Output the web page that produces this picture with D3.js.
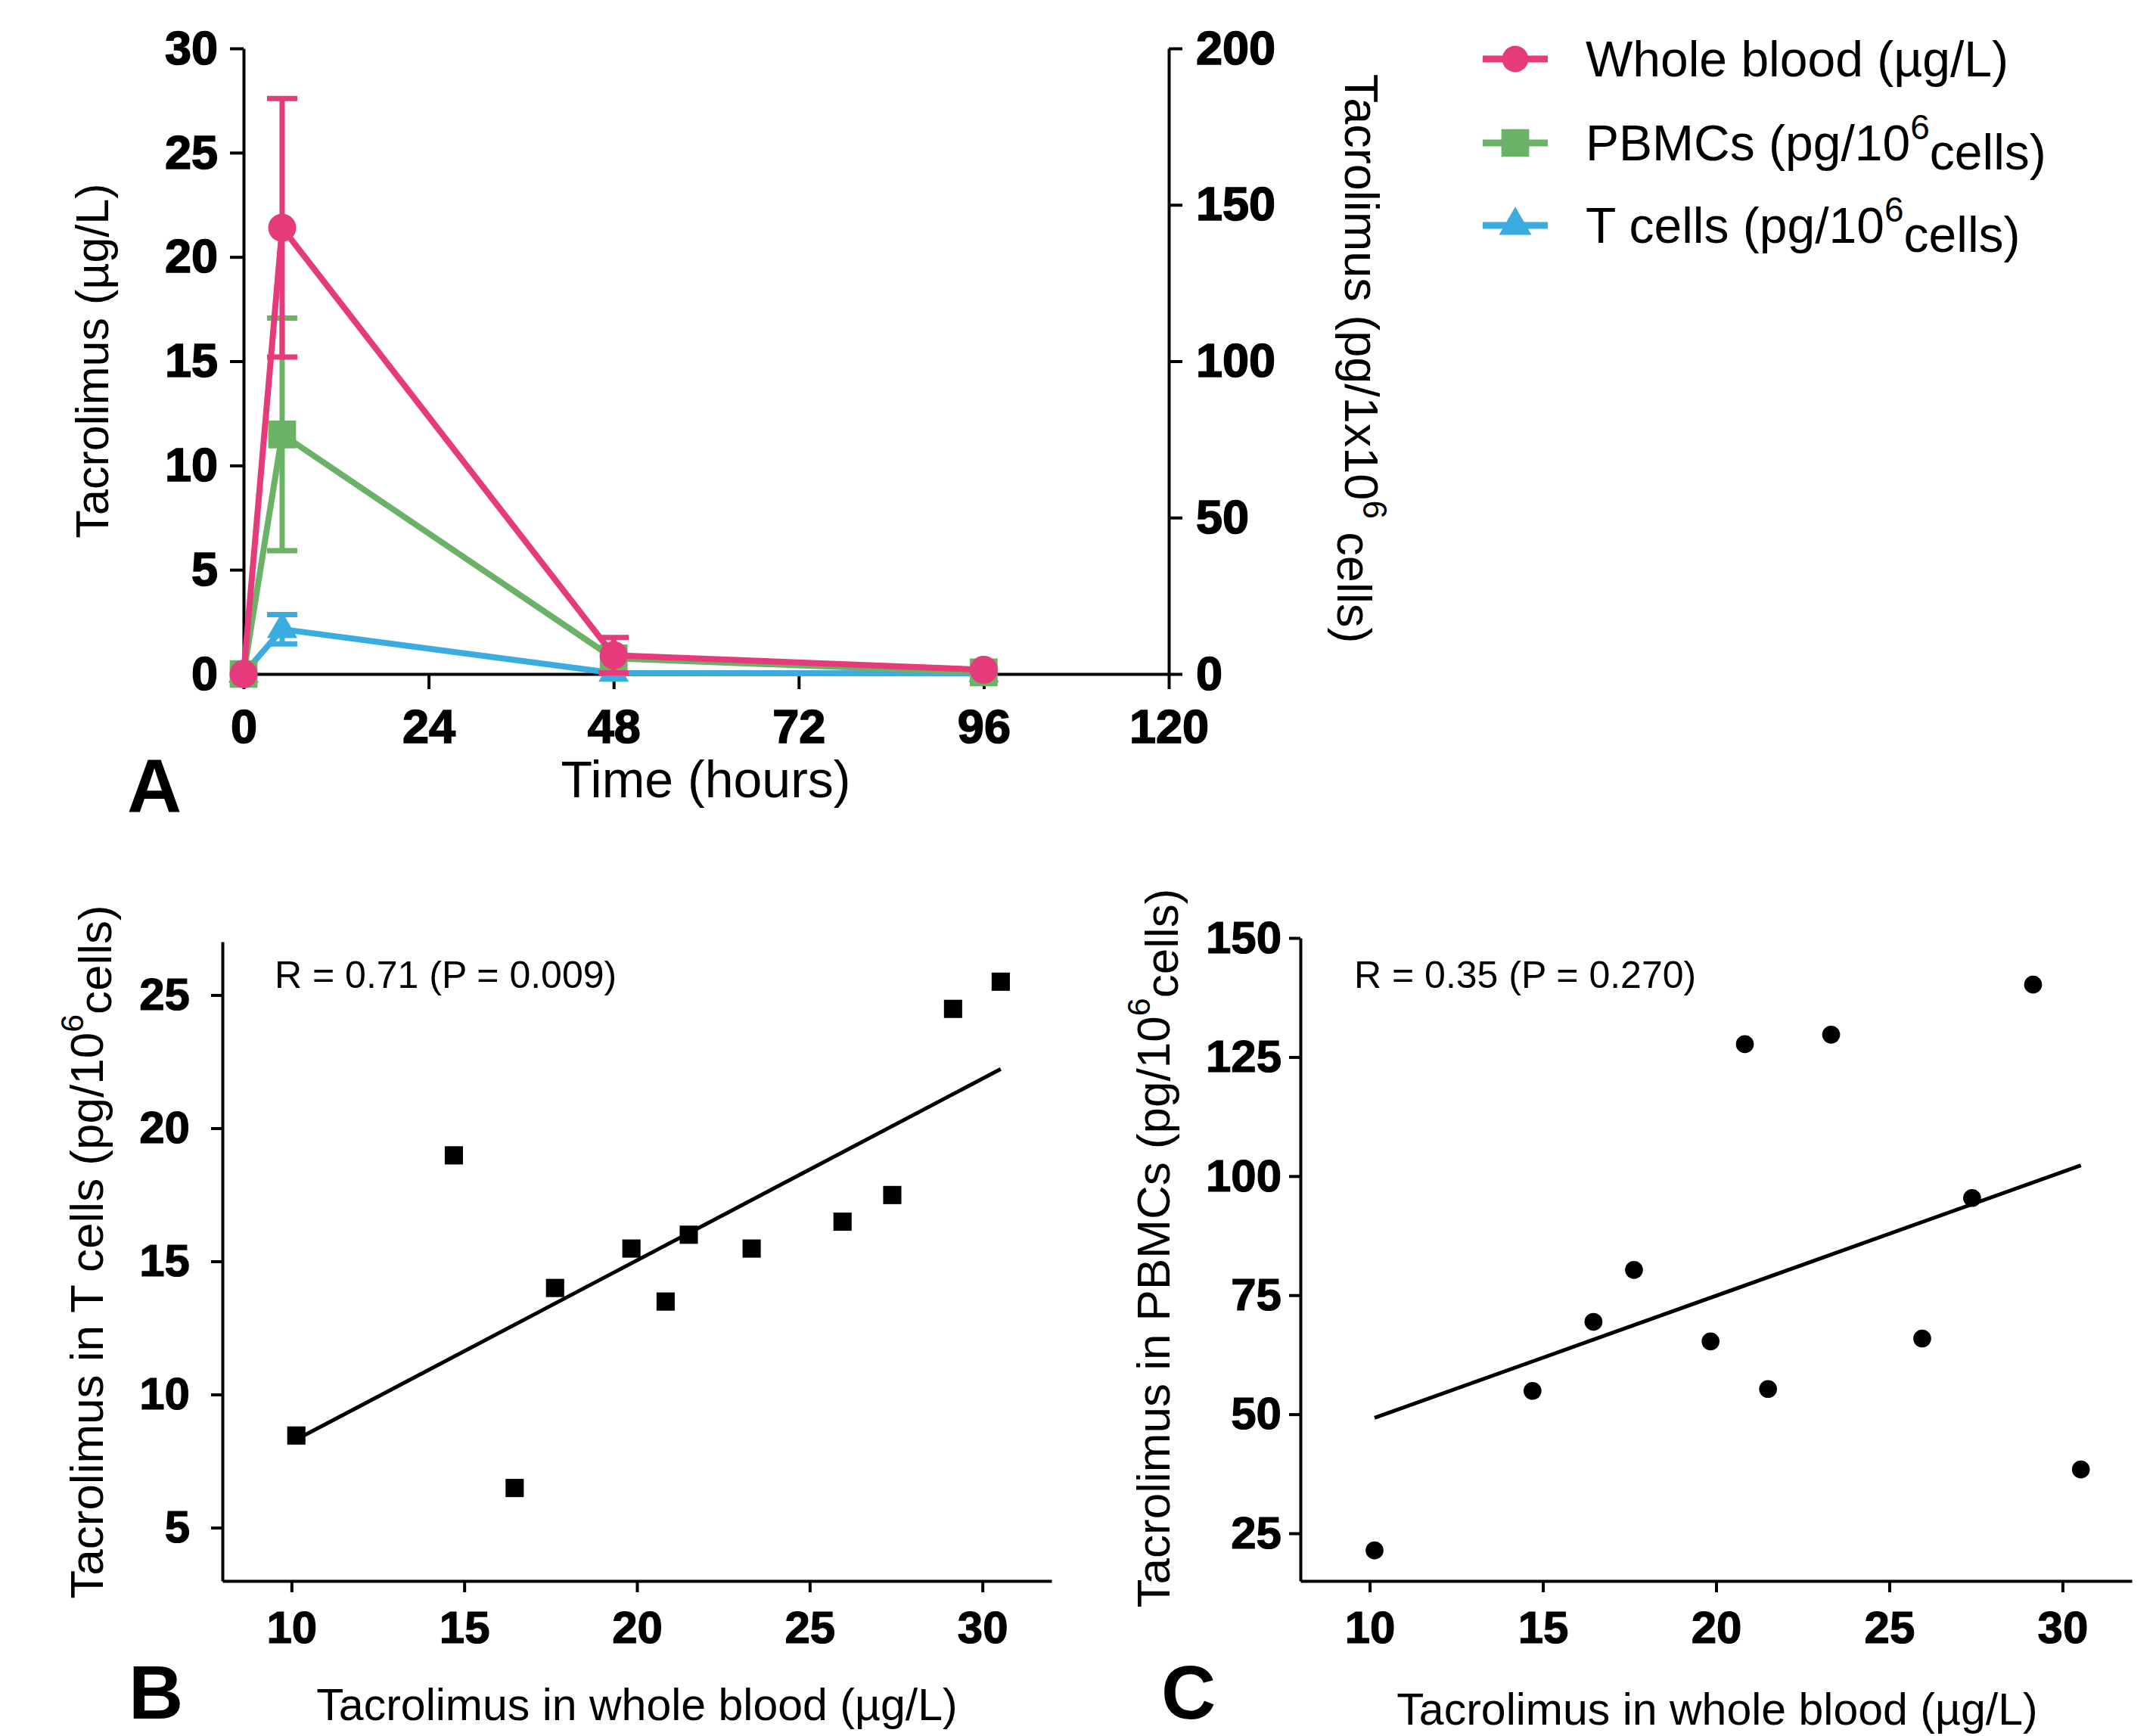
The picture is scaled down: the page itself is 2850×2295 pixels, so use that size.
<!DOCTYPE html>
<html><head><meta charset="utf-8">
<script src="https://cdn.jsdelivr.net/npm/d3@7"></script>
<style>
body{margin:0;background:#fff}
svg{display:block}
text{font-family:"Liberation Sans", Arial, sans-serif}
</style>
</head><body>
<svg id="chart" width="2850" height="2295"></svg>
<script>
// ---------- Panel A data ----------
const times = [0, 5, 48, 96];
const wholeBlood = [0, 21.4, 0.9, 0.2];        // µg/L (left axis)
const wholeBloodErr = [0, 6.2, 0.85, 0];
const pbmcTime = [0, 76.6, 5.0, 0.5];          // pg/10^6 cells (right axis)
const pbmcTimeErr = [0, 37.2, 0, 0];
const tcellTime = [0, 14.3, 0.3, 0.2];         // pg/10^6 cells (right axis)
const tcellTimeErr = [0, 4.7, 0, 0];
const xTicksA = [0, 24, 48, 72, 96, 120];
const yLeftTicksA = [0, 5, 10, 15, 20, 25, 30];
const yRightTicksA = [0, 50, 100, 150, 200];

// ---------- Panels B / C data ----------
const wbConc = [10.14, 14.70, 16.46, 17.63, 19.84, 20.83, 21.50, 23.32, 25.95, 27.39, 29.15, 30.53];
const tcellConc = [8.46, 18.98, 6.49, 14.0, 15.48, 13.49, 16.0, 15.48, 16.49, 17.49, 24.48, 25.5];
const pbmcConc = [21.4, 54.9, 69.4, 80.3, 65.3, 127.7, 55.3, 129.7, 65.9, 95.4, 140.2, 38.4];
const xTicksBC = [10, 15, 20, 25, 30];
const yTicksB = [5, 10, 15, 20, 25];
const yTicksC = [25, 50, 75, 100, 125, 150];

const PINK = "#E63B7A", GREEN = "#6AB266", BLUE = "#3AACE0";

const svg = d3.select("#chart");

function styleAxis(g, fs, heavy) {
  g.attr("font-family", null).attr("font-size", null);
  g.selectAll("path.domain").attr("stroke", "#000").attr("stroke-width", 4);
  g.selectAll(".tick line").attr("stroke", "#000").attr("stroke-width", 4);
  g.selectAll(".tick text")
    .attr("fill", "#000")
    .attr("stroke", "#000").attr("stroke-width", heavy)
    .style("font-family", '"Liberation Sans", Arial, sans-serif')
    .style("font-size", fs + "px")
    .style("font-weight", "bold");
}

// =================== PANEL A ===================
const xA = d3.scaleLinear([0, 120], [322, 1545]);
const yL = d3.scaleLinear([0, 30], [891, 64]);
const yR = d3.scaleLinear([0, 200], [891, 64]);

svg.append("g").attr("transform", "translate(0,891)")
  .call(d3.axisBottom(xA).tickValues(xTicksA).tickSize(20).tickSizeOuter(0).tickPadding(26))
  .call(g => styleAxis(g, 63, 1.6));
svg.append("g").attr("transform", "translate(322,0)")
  .call(d3.axisLeft(yL).tickValues(yLeftTicksA).tickSize(18).tickSizeOuter(0).tickPadding(16))
  .call(g => styleAxis(g, 63, 1.6));
svg.append("g").attr("transform", "translate(1545,0)")
  .call(d3.axisRight(yR).tickValues(yRightTicksA).tickSize(18).tickSizeOuter(0).tickPadding(18))
  .call(g => styleAxis(g, 63, 1.6));

const seriesA = [
  {name: "tcell", vals: tcellTime, err: tcellTimeErr, y: yR, color: BLUE, sym: d3.symbolTriangle, size: 700},
  {name: "pbmc", vals: pbmcTime, err: pbmcTimeErr, y: yR, color: GREEN, sym: d3.symbolSquare, size: 1350},
  {name: "wb", vals: wholeBlood, err: wholeBloodErr, y: yL, color: PINK, sym: d3.symbolCircle, size: 1080}
];

seriesA.forEach(s => {
  const pts = times.map((t, i) => ({t, v: s.vals[i], e: s.err[i]}));
  const g = svg.append("g");
  pts.filter(p => p.e > 0).forEach(p => {
    const x = xA(p.t);
    g.append("line").attr("x1", x).attr("x2", x)
      .attr("y1", s.y(p.v - p.e)).attr("y2", s.y(p.v + p.e))
      .attr("stroke", s.color).attr("stroke-width", 7);
    [p.v - p.e, p.v + p.e].forEach(v => {
      g.append("line").attr("x1", x - 20).attr("x2", x + 20)
        .attr("y1", s.y(v)).attr("y2", s.y(v))
        .attr("stroke", s.color).attr("stroke-width", 7);
    });
  });
  g.append("path").datum(pts)
    .attr("d", d3.line().x(d => xA(d.t)).y(d => s.y(d.v)))
    .attr("fill", "none").attr("stroke", s.color).attr("stroke-width", 8)
    .attr("stroke-linejoin", "round");
  g.selectAll("path.mk").data(pts).join("path").attr("class", "mk")
    .attr("transform", d => `translate(${xA(d.t)},${s.y(d.v)})`)
    .attr("d", d3.symbol().type(s.sym).size(s.size)())
    .attr("fill", s.color);
});

// axis titles A
svg.append("text").attr("transform", "translate(143,477) rotate(-90)")
  .attr("text-anchor", "middle").style("font-size", "61px").text("Tacrolimus (µg/L)");
const rt = svg.append("text").attr("transform", "translate(1778,474) rotate(90)")
  .attr("text-anchor", "middle").style("font-size", "63px");
rt.append("tspan").text("Tacrolimus (pg/1x10");
rt.append("tspan").attr("dy", "-0.55em").style("font-size", "44px").text("6");
rt.append("tspan").attr("dy", "0.55em").text(" cells)");
svg.append("text").attr("x", 933).attr("y", 1054).attr("text-anchor", "middle")
  .style("font-size", "68px").text("Time (hours)");
svg.append("text").attr("x", 204).attr("y", 1074).attr("text-anchor", "middle")
  .style("font-size", "100px").style("font-weight", "bold").text("A");

// legend
const legendItems = [
  {label: ["Whole blood (µg/L)"], color: PINK, sym: d3.symbolCircle, size: 950, y: 78},
  {label: ["PBMCs (pg/10", "6", "cells)"], color: GREEN, sym: d3.symbolSquare, size: 1350, y: 189},
  {label: ["T cells (pg/10", "6", "cells)"], color: BLUE, sym: d3.symbolTriangle, size: 800, y: 298}
];
legendItems.forEach(it => {
  const g = svg.append("g");
  g.append("line").attr("x1", 1960).attr("x2", 2046).attr("y1", it.y).attr("y2", it.y)
    .attr("stroke", it.color).attr("stroke-width", 9);
  g.append("path").attr("transform", `translate(2003,${it.y})`)
    .attr("d", d3.symbol().type(it.sym).size(it.size)()).attr("fill", it.color);
  const t = g.append("text").attr("x", 2096).attr("y", it.y + 23).style("font-size", "66px");
  t.append("tspan").text(it.label[0]);
  if (it.label.length > 1) {
    t.append("tspan").attr("dy", "-0.6em").style("font-size", "46px").text(it.label[1]);
    t.append("tspan").attr("dy", "0.6em").text(it.label[2]);
  }
});

// =================== regression helper ===================
function regress(xs, ys) {
  const mx = d3.mean(xs), my = d3.mean(ys);
  let sxy = 0, sxx = 0;
  xs.forEach((x, i) => { sxy += (x - mx) * (ys[i] - my); sxx += (x - mx) * (x - mx); });
  const b = sxy / sxx, a = my - b * mx;
  const x0 = d3.min(xs), x1 = d3.max(xs);
  return [[x0, a + b * x0], [x1, a + b * x1]];
}

function scatterPanel(opt) {
  const x = d3.scaleLinear([8, 32], [opt.x0, opt.x1]);
  const y = d3.scaleLinear(opt.ydom, [2090, opt.yTop]);
  svg.append("g").attr("transform", "translate(0,2090)")
    .call(d3.axisBottom(x).tickValues(xTicksBC).tickSize(15).tickSizeOuter(0).tickPadding(24))
    .call(g => styleAxis(g, 60, 1.2));
  svg.append("g").attr("transform", `translate(${opt.x0},0)`)
    .call(d3.axisLeft(y).tickValues(opt.yticks).tickSize(15).tickSizeOuter(0).tickPadding(opt.ypad))
    .call(g => styleAxis(g, 60, 1.2));
  svg.selectAll(null).data(opt.ys.map((v, i) => [wbConc[i], v])).enter()
    .append("path")
    .attr("transform", d => `translate(${x(d[0])},${y(d[1])})`)
    .attr("d", d3.symbol().type(opt.sym).size(opt.size)())
    .attr("fill", "#000");
  const r = regress(wbConc, opt.ys);
  svg.append("path").datum(r)
    .attr("d", d3.line().x(d => x(d[0])).y(d => y(d[1])))
    .attr("stroke", "#000").attr("stroke-width", 5).attr("fill", "none");
  svg.append("text").attr("x", opt.statX).attr("y", 1306).style("font-size", "50px").text(opt.stat);
  const yl = svg.append("text").attr("transform", `translate(${opt.ylabX},${opt.ylabY}) rotate(-90)`)
    .attr("text-anchor", "middle").style("font-size", "62px");
  yl.append("tspan").text(opt.ylab);
  yl.append("tspan").attr("dy", "-0.6em").style("font-size", "43px").text("6");
  yl.append("tspan").attr("dy", "0.6em").text("cells)");
  svg.append("text").attr("x", opt.xlabX).attr("y", opt.xlabY).attr("text-anchor", "middle")
    .style("font-size", "59px").text("Tacrolimus in whole blood (µg/L)");
  svg.append("text").attr("x", opt.letterX).attr("y", 2272)
    .style("font-size", "100px").style("font-weight", "bold").text(opt.letter);
}

scatterPanel({
  x0: 294, x1: 1390, ydom: [3, 27], yTop: 1245, yticks: yTicksB, ypad: 28,
  ys: tcellConc, sym: d3.symbolSquare, size: 580,
  stat: "R = 0.71 (P = 0.009)", statX: 363,
  ylab: "Tacrolimus in T cells (pg/10", ylabX: 136, ylabY: 1655,
  xlabX: 842, xlabY: 2274, letter: "B", letterX: 170
});
scatterPanel({
  x0: 1719, x1: 2818, ydom: [15, 150], yTop: 1240, yticks: yTicksC, ypad: 10,
  ys: pbmcConc, sym: d3.symbolCircle, size: 440,
  stat: "R = 0.35 (P = 0.270)", statX: 1790,
  ylab: "Tacrolimus in PBMCs (pg/10", ylabX: 1546, ylabY: 1650,
  xlabX: 2270, xlabY: 2280, letter: "C", letterX: 1535
});
</script>
</body></html>
